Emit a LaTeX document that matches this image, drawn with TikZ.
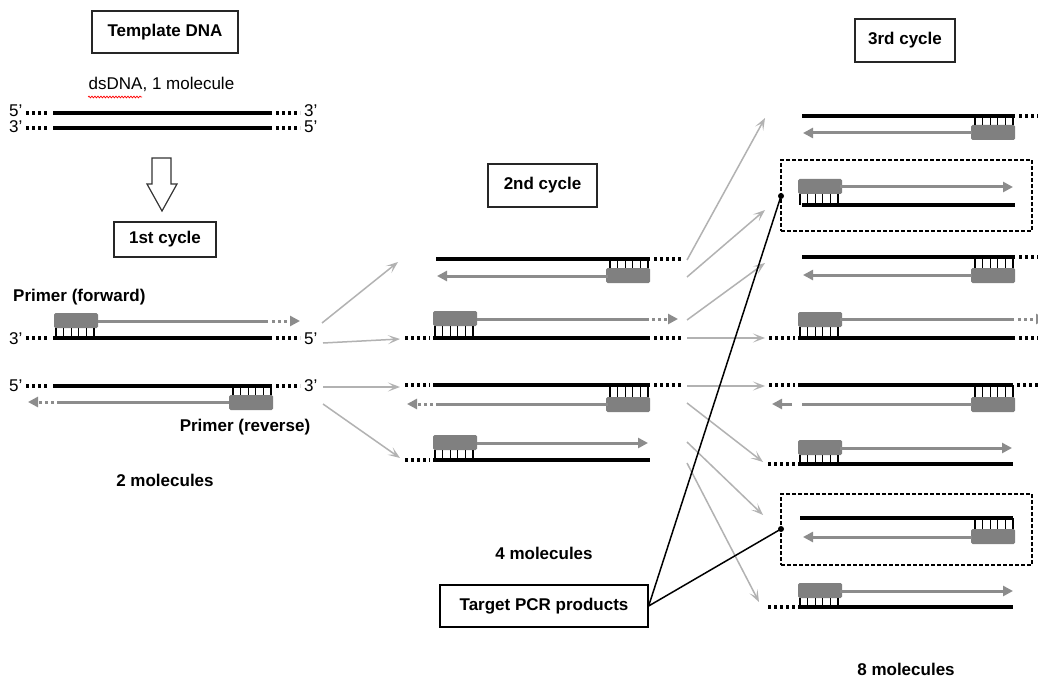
\documentclass[tikz,border=0pt]{standalone}
\usepackage{fontspec}
\setmainfont{Liberation Sans}
\usetikzlibrary{arrows.meta,decorations.pathmorphing}
\definecolor{primgray}{HTML}{808080}
\definecolor{extgray}{HTML}{8C8C8C}
\definecolor{trgray}{HTML}{B2B2B2}
\tikzset{
  lbl/.style={font=\fontsize{17}{20}\selectfont\bfseries, inner sep=0pt},
  reg/.style={font=\fontsize{17}{20}\selectfont, inner sep=0pt},
  prime/.style={font=\fontsize{17}{20}\selectfont, inner sep=0pt, text height=10pt, text depth=0pt, anchor=west},
  titlebox/.style={draw=black!85, line width=1.3pt, font=\fontsize{17}{20}\selectfont\bfseries, inner sep=0pt},
  strand/.style={line width=3.5pt, black},
  sdots/.style={line width=3.2pt, black, dash pattern=on 3pt off 3pt},
  tickl/.style={line width=1.3pt, black},
  ext/.style={line width=3pt, extgray},
  extdots/.style={line width=3pt, extgray, dash pattern=on 3pt off 3pt},
  etip/.style={-{Triangle[length=10pt,width=10pt]}},
  trans/.style={line width=1.5pt, trgray, -{Stealth[length=12pt,width=9pt,inset=6pt]}},
  target/.style={line width=1.5pt, black},
  tbox/.style={draw=black, line width=1.2pt, dash pattern=on 4pt off 2pt},
}
\newcommand\fwdp[3]{%
  \fill[primgray, rounded corners=1.5pt] (#1,#2) rectangle ++(44,15);
  \foreach \k in {0,...,5}{\draw[tickl] ({#1+2+\k*7.6},{#2+15}) -- ({#1+2+\k*7.6},{#3});}
}
\newcommand\revp[3]{%
  \fill[primgray, rounded corners=1.5pt] (#1-44,#3) rectangle (#1,#3+15);
  \foreach \k in {0,...,5}{\draw[tickl] ({#1-2-\k*7.6},{#2}) -- ({#1-2-\k*7.6},{#3});}
}
\begin{document}
\begin{tikzpicture}[x=1pt,y=-1pt]
\fill[white] (0,0) rectangle (1038,679);
\clip (0,0) rectangle (1038,679);

% ---------- Template ----------
\node[titlebox, minimum width=146pt, minimum height=42pt] (template) at (165,32) {Template DNA};
\node[reg] (ds) at (161.5,84) {dsDNA, 1 molecule};
\draw[red, line width=0.7pt, decorate, decoration={snake, amplitude=0.9pt, segment length=3pt}] (88,97) -- (142,97);

\node[prime] (t5a) at (9,112) {5'};
\draw[sdots] (26,113) -- (50,113);
\draw[strand] (53,113) -- (272,113);
\draw[sdots] (276,113) -- (300,113);
\node[prime] (t3a) at (304,112) {3'};

\node[prime] (t3b) at (9,128) {3'};
\draw[sdots] (26,128) -- (50,128);
\draw[strand] (53,128) -- (272,128);
\draw[sdots] (276,128) -- (300,128);
\node[prime] (t5b) at (304,128) {5'};

% down arrow
\draw[black!80, line width=1.2pt, fill=white] (152,158) -- (171,158) -- (171,184) -- (177,184) -- (162,211) -- (147,184) -- (152,184) -- cycle;

% ---------- 1st cycle ----------
\node[titlebox, minimum width=102pt, minimum height=35pt] (c1) at (165,239.5) {1st cycle};
\node[lbl, anchor=west] (pf) at (13,297) {Primer (forward)};

\fwdp{54}{313}{338}
\draw[ext] (98,321) -- (268,321);
\draw[extdots, etip] (272,321) -- (300,321);
\node[prime] (r1l) at (9,339) {3'};
\draw[sdots] (26,338) -- (50,338);
\draw[strand] (53,338) -- (272,338);
\draw[sdots] (276,338) -- (300,338);
\node[prime] (r1r) at (304,339) {5'};

\node[prime] (r2l) at (9,386) {5'};
\draw[sdots] (26,386) -- (50,386);
\draw[strand] (53,386) -- (272,386);
\draw[sdots] (276,386) -- (300,386);
\node[prime] (r2r) at (304,386) {3'};
\revp{273}{386}{395}
\draw[ext] (229,402) -- (57,402);
\draw[extdots, etip] (54,402) -- (28,402);

\node[lbl] (pr) at (245,427) {Primer (reverse)};
\node[lbl] (m2) at (165,480) {2 molecules};

% transitions 1 -> 2
\coordinate (a1s) at (322,323); \coordinate (a1e) at (398,262);
\coordinate (a2s) at (323,343); \coordinate (a2e) at (400,339);
\coordinate (a3s) at (323,387); \coordinate (a3e) at (400,387);
\coordinate (a4s) at (323,404); \coordinate (a4e) at (400,458);
\draw[trans] (a1s) -- (a1e);
\draw[trans] (a2s) -- (a2e);
\draw[trans] (a3s) -- (a3e);
\draw[trans] (a4s) -- (a4e);

% ---------- 2nd cycle ----------
\node[titlebox, minimum width=109pt, minimum height=43pt] (c2) at (542.5,185.5) {2nd cycle};

% row A
\draw[strand] (436,259) -- (650,259);
\draw[sdots] (654,259) -- (681,259);
\revp{650}{259}{268}
\draw[ext, etip] (608,276) -- (437,276);
% row B
\fwdp{433}{311}{338}
\draw[ext] (477,319) -- (649,319);
\draw[extdots, etip] (652,319) -- (678,319);
\draw[sdots] (405,338) -- (430,338);
\draw[strand] (433,338) -- (650,338);
\draw[sdots] (654,338) -- (681,338);
% row C
\draw[sdots] (405,385) -- (430,385);
\draw[strand] (433,385) -- (650,385);
\draw[sdots] (654,385) -- (681,385);
\revp{650}{385}{397}
\draw[ext] (608,404) -- (436,404);
\draw[extdots, etip] (433,404) -- (407,404);
% row D
\fwdp{433}{435}{460}
\draw[ext, etip] (477,443) -- (648,443);
\draw[sdots] (405,460) -- (430,460);
\draw[strand] (433,460) -- (650,460);

\node[lbl] (m4) at (544,553) {4 molecules};

% transitions 2 -> 3
\coordinate (b1s) at (687,260); \coordinate (b1e) at (765,118);
\coordinate (b2s) at (687,277); \coordinate (b2e) at (765,210);
\coordinate (b3s) at (687,320); \coordinate (b3e) at (765,263);
\coordinate (b4s) at (687,338); \coordinate (b4e) at (765,338);
\coordinate (b5s) at (687,386); \coordinate (b5e) at (765,386);
\coordinate (b6s) at (687,403); \coordinate (b6e) at (763,462);
\coordinate (b7s) at (687,442); \coordinate (b7e) at (763,515);
\coordinate (b8s) at (687,463); \coordinate (b8e) at (759,602);
\foreach \i in {1,...,8}{\draw[trans] (b\i s) -- (b\i e);}

% ---------- 3rd cycle ----------
\node[titlebox, minimum width=100pt, minimum height=43pt] (c3) at (905,40.5) {3rd cycle};

% row 1
\draw[strand] (802,116) -- (1015,116);
\draw[sdots] (1019,116) -- (1040,116);
\revp{1015}{116}{125}
\draw[ext, etip] (972,133) -- (803,133);
% row 2 (target)
\node[tbox, minimum width=251pt, minimum height=71pt, inner sep=0pt] (box1) at (906.5,195.5) {};
\fwdp{798}{179}{205}
\draw[ext, etip] (840,187) -- (1013,187);
\draw[strand] (802,205) -- (1015,205);
% row 3
\draw[strand] (802,257) -- (1015,257);
\draw[sdots] (1019,257) -- (1040,257);
\revp{1015}{257}{268}
\draw[ext, etip] (972,275) -- (803,275);
% row 4
\fwdp{798}{312}{338}
\draw[ext] (840,319) -- (1014,319);
\draw[extdots, etip] (1018,319) -- (1046,319);
\draw[sdots] (769,338) -- (795,338);
\draw[strand] (798,338) -- (1015,338);
\draw[sdots] (1019,338) -- (1040,338);
% row 5
\draw[sdots] (769,385) -- (795,385);
\draw[strand] (798,385) -- (1013,385);
\draw[sdots] (1017,385) -- (1040,385);
\revp{1015}{385}{397}
\draw[ext] (972,404) -- (802,404);
\draw[ext, etip] (792,404) -- (772,404);
% row 6
\fwdp{798}{440}{464}
\draw[ext, etip] (840,448) -- (1012,448);
\draw[sdots] (768,464) -- (795,464);
\draw[strand] (798,464) -- (1013,464);
% row 7 (target)
\node[tbox, minimum width=251pt, minimum height=71pt, inner sep=0pt] (box2) at (906.5,529.5) {};
\draw[strand] (800,518) -- (1013,518);
\revp{1015}{518}{529}
\draw[ext, etip] (972,537) -- (803,537);
% row 8
\fwdp{798}{583}{607}
\draw[ext, etip] (840,591) -- (1013,591);
\draw[sdots] (768,607) -- (795,607);
\draw[strand] (798,607) -- (1013,607);

\node[lbl] (m8) at (906,669) {8 molecules};

% ---------- Target PCR products ----------
\node[titlebox, draw=black, minimum width=208pt, minimum height=42pt] (tpcr) at (544,606) {Target PCR products};
\coordinate (d1) at (781,196);
\coordinate (d2) at (781,529);
\draw[target] (tpcr.east) -- (d1);
\draw[target] (tpcr.east) -- (d2);
\fill[black] (d1) circle (3pt);
\fill[black] (d2) circle (3pt);
\end{tikzpicture}
\end{document}
